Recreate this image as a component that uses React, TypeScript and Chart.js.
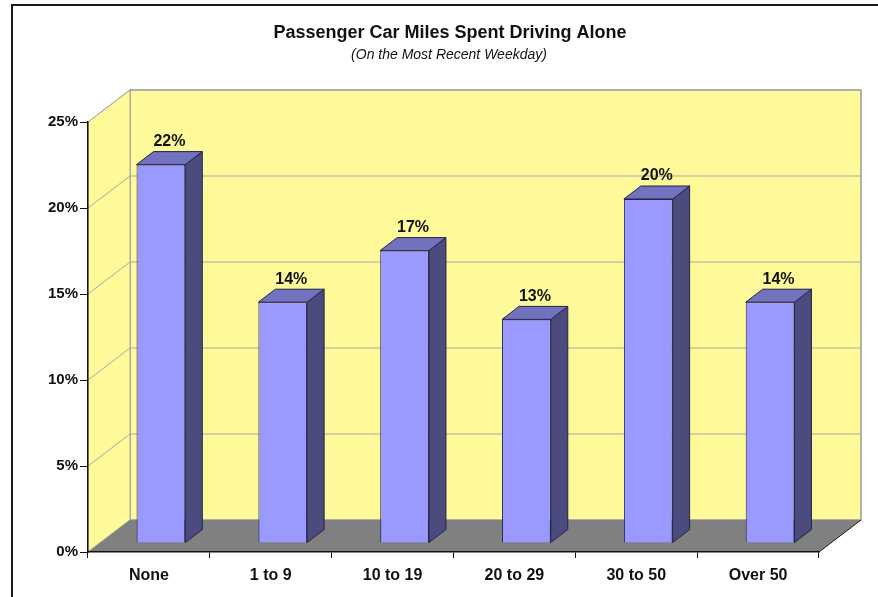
import React, { useEffect, useRef } from 'react';
import { Chart, registerables } from 'chart.js';

Chart.register(...registerables);

const categories = ['None', '1 to 9', '10 to 19', '20 to 29', '30 to 50', 'Over 50'];
const shares = [22, 14, 17, 13, 20, 14];
const yTickValues = [0, 5, 10, 15, 20, 25];
const titleText = 'Passenger Car Miles Spent Driving Alone';
const subtitleText = '(On the Most Recent Weekday)';

// 3D geometry (pixels)
const WALL_DX = 42;
const WALL_DY = 32;
const BAR_OFF_X = 12;
const BAR_OFF_Y = 9;
const BAR_DX = 17;
const BAR_DY = 13;

const FONT = '"Liberation Sans", Arial, Helvetica, sans-serif';

function poly(ctx: CanvasRenderingContext2D, pts: number[][], fill?: string, stroke?: string, lw = 1) {
  ctx.beginPath();
  ctx.moveTo(pts[0][0], pts[0][1]);
  for (let i = 1; i < pts.length; i++) ctx.lineTo(pts[i][0], pts[i][1]);
  ctx.closePath();
  if (fill) {
    ctx.fillStyle = fill;
    ctx.fill();
  }
  if (stroke) {
    ctx.strokeStyle = stroke;
    ctx.lineWidth = lw;
    ctx.stroke();
  }
}

const threeDPlugin = {
  id: 'threeD',
  beforeDraw(chart: any) {
    const { ctx, chartArea: a, scales } = chart;
    const y = scales.y;
    const L = a.left, R = a.right, T = a.top, B = a.bottom;
    ctx.save();

    // outer frame
    ctx.strokeStyle = '#1a1a1a';
    ctx.lineWidth = 2;
    ctx.beginPath();
    ctx.moveTo(12, chart.height);
    ctx.lineTo(12, 5);
    ctx.lineTo(chart.width, 5);
    ctx.stroke();

    // titles
    ctx.fillStyle = '#111';
    ctx.textAlign = 'center';
    ctx.textBaseline = 'middle';
    ctx.font = `bold 18px ${FONT}`;
    ctx.fillText(titleText, 450, 33);
    ctx.font = `italic 14px ${FONT}`;
    ctx.fillText(subtitleText, 449, 55);

    // back wall
    poly(ctx, [[L + WALL_DX, T - WALL_DY], [R + WALL_DX, T - WALL_DY], [R + WALL_DX, B - WALL_DY], [L + WALL_DX, B - WALL_DY]], '#FFFA99', '#9a9a9a', 1.5);
    // side wall
    poly(ctx, [[L, T], [L + WALL_DX, T - WALL_DY], [L + WALL_DX, B - WALL_DY], [L, B]], '#FFFA99', '#a8a8a8', 1);
    // gridlines
    ctx.strokeStyle = '#a8a8a8';
    ctx.lineWidth = 1;
    for (const v of yTickValues) {
      const py = y.getPixelForValue(v);
      ctx.beginPath();
      ctx.moveTo(L, py);
      ctx.lineTo(L + WALL_DX, py - WALL_DY);
      ctx.lineTo(R + WALL_DX, py - WALL_DY);
      ctx.stroke();
    }
    // floor
    poly(ctx, [[L, B], [L + WALL_DX, B - WALL_DY], [R + WALL_DX, B - WALL_DY], [R, B]], '#808080');
    ctx.strokeStyle = '#1a1a1a';
    ctx.lineWidth = 1;
    ctx.beginPath();
    ctx.moveTo(R, B);
    ctx.lineTo(R + WALL_DX, B - WALL_DY);
    ctx.stroke();
    ctx.restore();
  },
  beforeDatasetsDraw(chart: any) {
    chart.ctx.save();
    chart.ctx.translate(BAR_OFF_X, -BAR_OFF_Y);
  },
  afterDatasetsDraw(chart: any) {
    const ctx = chart.ctx;
    const meta = chart.getDatasetMeta(0);
    meta.data.forEach((bar: any, i: number) => {
      const { x, y, width, base } = bar.getProps(['x', 'y', 'width', 'base'], true);
      const l = x - width / 2;
      const r = x + width / 2;
      // side face
      poly(ctx, [[r, y], [r + BAR_DX, y - BAR_DY], [r + BAR_DX, base - BAR_DY], [r, base]], '#4B4B7E', '#23234a', 1);
      // top face
      poly(ctx, [[l, y], [l + BAR_DX, y - BAR_DY], [r + BAR_DX, y - BAR_DY], [r, y]], '#7272BE', '#23234a', 1);
      // value label
      ctx.fillStyle = '#111';
      ctx.font = `bold 16px ${FONT}`;
      ctx.textAlign = 'center';
      ctx.textBaseline = 'bottom';
      ctx.fillText(`${shares[i]}%`, x + BAR_DX / 2, y - BAR_DY - 2);
    });
    ctx.restore();
  },
};

export default function App() {
  const ref = useRef<HTMLCanvasElement | null>(null);
  useEffect(() => {
    if (!ref.current) return;
    const chart = new Chart(ref.current, {
      type: 'bar',
      data: {
        labels: categories,
        datasets: [
          {
            data: shares,
            backgroundColor: '#9999FF',
            borderColor: '#23234a',
            borderWidth: 1,
            categoryPercentage: 0.4,
            barPercentage: 1,
          },
        ],
      },
      options: {
        responsive: false,
        animation: false,
        layout: { padding: { left: 0, right: 59, top: 122, bottom: 0 } },
        plugins: {
          legend: { display: false },
          tooltip: { enabled: false },
          title: { display: false },
        },
        scales: {
          x: {
            afterFit: (s: any) => {
              s.height = 45;
            },
            grid: { display: true, drawOnChartArea: false, drawTicks: true, tickLength: 6, color: '#111', offset: true },
            border: { display: true, color: '#111', width: 1.5 },
            ticks: { color: '#111', font: { family: FONT, size: 16, weight: 'bold' }, padding: 8 },
          },
          y: {
            min: 0,
            max: 25,
            afterFit: (s: any) => {
              s.width = 88;
            },
            ticks: {
              stepSize: 5,
              color: '#111',
              font: { family: FONT, size: 15, weight: 'bold' },
              padding: 2,
              callback: (v: any) => `${v}%`,
            },
            grid: { display: true, drawOnChartArea: false, drawTicks: true, tickLength: 8, color: '#111' },
            border: { display: true, color: '#111', width: 1.5 },
          },
        },
      },
      plugins: [threeDPlugin],
    });
    return () => chart.destroy();
  }, []);
  return (
    <div style={{ position: 'absolute', left: 0, top: 0, width: 878, height: 597, background: '#fff' }}>
      <canvas ref={ref} width={878} height={597} style={{ display: 'block' }} />
    </div>
  );
}
